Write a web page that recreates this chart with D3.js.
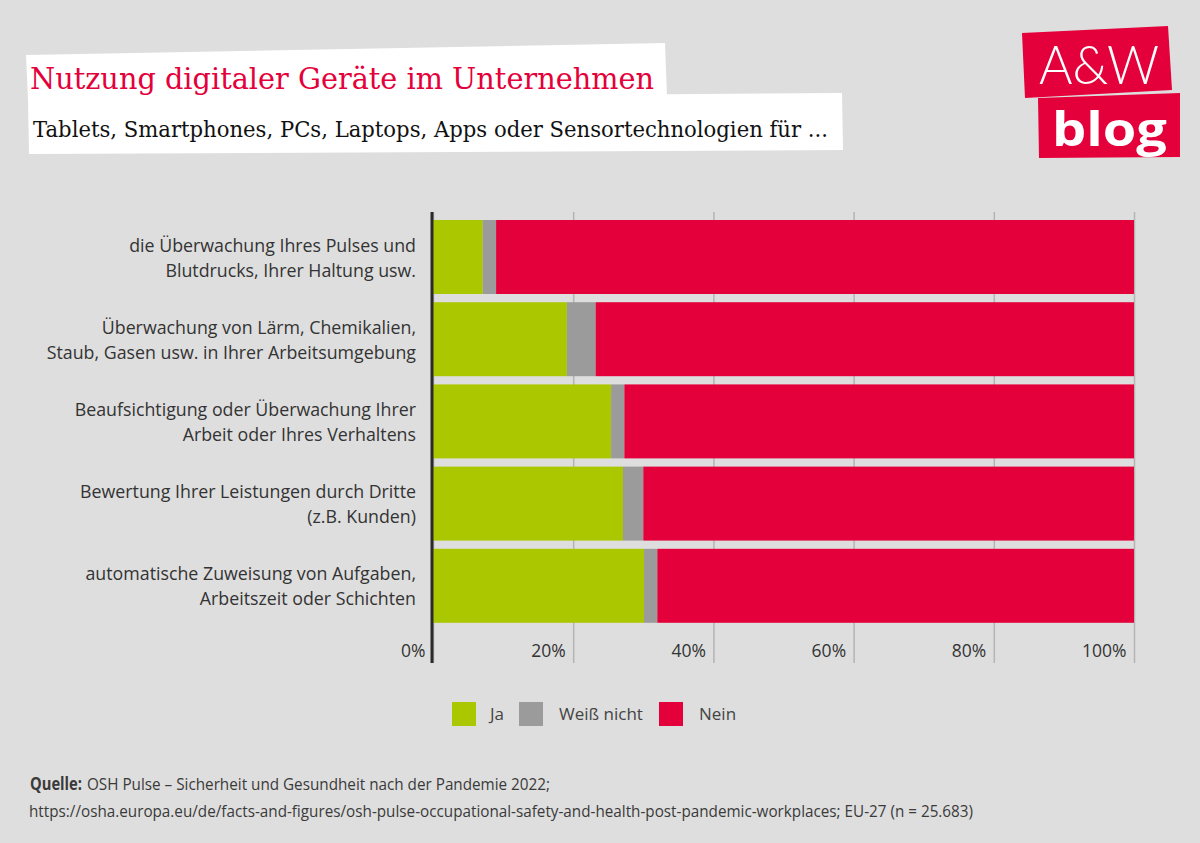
<!DOCTYPE html>
<html><head><meta charset="utf-8">
<script src="https://cdn.jsdelivr.net/npm/d3@7"></script>
<style>
html,body{margin:0;padding:0;background:#dedede;}
svg{display:block;}
</style></head>
<body>
<svg id="chart" width="1200" height="843"></svg>
<script>
const categories = [
  ["die Überwachung Ihres Pulses und", "Blutdrucks, Ihrer Haltung usw."],
  ["Überwachung von Lärm, Chemikalien,", "Staub, Gasen usw. in Ihrer Arbeitsumgebung"],
  ["Beaufsichtigung oder Überwachung Ihrer", "Arbeit oder Ihres Verhaltens"],
  ["Bewertung Ihrer Leistungen durch Dritte", "(z.B. Kunden)"],
  ["automatische Zuweisung von Aufgaben,", "Arbeitszeit oder Schichten"]
];
const seriesNames = ["Ja", "Weiß nicht", "Nein"];
const ja = [7.1, 19.1, 25.4, 27.1, 30.1];
const weissNicht = [1.9, 4.1, 1.9, 2.9, 1.9];
const nein = [91.0, 76.8, 72.7, 70.0, 68.0];
const tickValues = [0, 20, 40, 60, 80, 100];
const colors = ["#abc700", "#9b9b9b", "#e4003a"];

const title = "Nutzung digitaler Geräte im Unternehmen";
const subtitle = "Tablets, Smartphones, PCs, Laptops, Apps oder Sensortechnologien für ...";
const sourceLabel = "Quelle:";
const sourceLine1 = "OSH Pulse – Sicherheit und Gesundheit nach der Pandemie 2022;";
const sourceLine2 = "https://osha.europa.eu/de/facts-and-figures/osh-pulse-occupational-safety-and-health-post-pandemic-workplaces; EU-27 (n = 25.683)";

const svg = d3.select("#chart");
const red = "#e4003a";
const labelFont = "'Open Sans', 'Noto Sans', sans-serif";

// Title boxes
svg.append("polygon").attr("points", "26,55 665,43 667,97 28,100").attr("fill", "#fff");
svg.append("polygon").attr("points", "28,99 842,93 843,150 29,154").attr("fill", "#fff");
svg.append("text").attr("x", 30).attr("y", 89).attr("font-family", "'DejaVu Serif', serif")
  .attr("font-size", 29).attr("fill", red).attr("textLength", 624).attr("lengthAdjust", "spacingAndGlyphs").text(title);
svg.append("text").attr("x", 33).attr("y", 137).attr("font-family", "'DejaVu Serif', serif")
  .attr("font-size", 23).attr("fill", "#111").attr("textLength", 795).attr("lengthAdjust", "spacingAndGlyphs").text(subtitle);

// Logo
svg.append("polygon").attr("points", "1022,33 1168,26 1172,90 1025,98").attr("fill", red);
svg.append("polygon").attr("points", "1038,98 1180,93 1180,157 1039,158").attr("fill", red);
svg.append("text").attr("x", 1039).attr("y", 84).attr("font-family", "Lato, sans-serif").attr("font-weight", 300)
  .attr("font-size", 54).attr("fill", "#fff").attr("textLength", 120).attr("lengthAdjust", "spacingAndGlyphs").text("A&W");
svg.append("text").attr("x", 1052).attr("y", 146).attr("font-family", "'Open Sans', sans-serif").attr("font-weight", 700)
  .attr("font-size", 47).attr("fill", "#fff").attr("textLength", 115).attr("lengthAdjust", "spacingAndGlyphs").text("blog");

// Scales
const x = d3.scaleLinear().domain([0, 100]).range([433, 1134]);
const y = d3.scaleBand().domain(d3.range(categories.length)).range([215.9, 626.9]).paddingInner(0.1).paddingOuter(0.05);

const axisBottomY = 663, axisTopY = 212;
const axisG = svg.append("g").attr("transform", `translate(0,${axisBottomY})`)
  .call(d3.axisBottom(x).tickValues(tickValues).tickSize(-(axisBottomY - axisTopY)).tickFormat(d => d + "%"));
axisG.select(".domain").remove();
axisG.selectAll(".tick line").attr("stroke", "#b4b4b4").attr("stroke-width", 1.5);
axisG.selectAll(".tick text").attr("x", -8).attr("y", -6).attr("dy", 0).attr("text-anchor", "end")
  .attr("font-family", labelFont).attr("font-size", 17.5).attr("fill", "#333");

// Stacked bars
const rows = categories.map((c, i) => ({i, Ja: ja[i], "Weiß nicht": weissNicht[i], Nein: nein[i]}));
const stack = d3.stack().keys(seriesNames)(rows);
svg.append("g").selectAll("g").data(stack).join("g").attr("fill", (d, k) => colors[k])
  .selectAll("rect").data(d => d).join("rect")
  .attr("x", d => x(d[0])).attr("width", d => x(Math.min(d[1], 100)) - x(d[0]))
  .attr("y", d => y(d.data.i)).attr("height", y.bandwidth());

// y axis line
svg.append("line").attr("x1", 432).attr("x2", 432).attr("y1", axisTopY).attr("y2", axisBottomY)
  .attr("stroke", "#2a2a2a").attr("stroke-width", 3);

// Category labels
const lab = svg.append("g").selectAll("text").data(categories).join("text")
  .attr("text-anchor", "end").attr("font-family", labelFont).attr("font-size", 17.8).attr("fill", "#333")
  .attr("transform", (d, i) => `translate(416,${y(i) + y.bandwidth() / 2})`);
lab.selectAll("tspan").data(d => d).join("tspan").attr("x", 0)
  .attr("y", (d, j) => j === 0 ? -5.5 : 19.5).text(d => d);

// Legend
const legX = [452, 519, 659];
const leg = svg.append("g").selectAll("g").data(seriesNames).join("g")
  .attr("transform", (d, k) => `translate(${legX[k]},702)`);
leg.append("rect").attr("width", 24).attr("height", 24).attr("fill", (d, k) => colors[k]);
leg.append("text").attr("x", (d, k) => k === 0 ? 38 : 40).attr("y", 18).attr("font-family", labelFont)
  .attr("font-size", 17).attr("fill", "#444").text(d => d);

// Footer
svg.append("text").attr("x", 30).attr("y", 790).attr("font-family", labelFont).attr("font-size", 17)
  .attr("font-weight", 700).attr("fill", "#3a3a3a")
  .attr("textLength", 52).attr("lengthAdjust", "spacingAndGlyphs").text(sourceLabel);
svg.append("text").attr("x", 87).attr("y", 790).attr("font-family", labelFont).attr("font-size", 17).attr("fill", "#3a3a3a")
  .attr("textLength", 463).attr("lengthAdjust", "spacingAndGlyphs").text(sourceLine1);
svg.append("text").attr("x", 29).attr("y", 817).attr("font-family", labelFont).attr("font-size", 17).attr("fill", "#3a3a3a")
  .attr("textLength", 944).attr("lengthAdjust", "spacingAndGlyphs").text(sourceLine2);
</script>
</body></html>
